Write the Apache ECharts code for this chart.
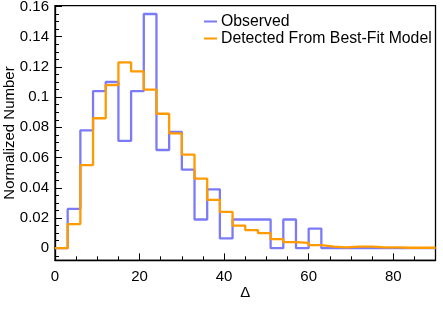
<!DOCTYPE html>
<html><head><meta charset="utf-8">
<script src="https://cdn.jsdelivr.net/npm/echarts@6/dist/echarts.min.js"></script>
<style>html,body{margin:0;padding:0;background:#fff}#c{width:443px;height:313px}</style>
</head><body><div id="c"></div>
<script>
const binStarts = [0,3,6,9,12,15,18,21,24,27,30,33,36,39,42,45,48,51,54,57,60,63,66,69,72,75,78,81,84,87];
const binEnd = 90;
const observed = [0,0.026,0.078,0.104,0.110,0.071,0.104,0.155,0.065,0.077,0.052,0.019,0.039,0.0065,0.019,0.019,0.019,0,0.019,0,0.013,0,0,0,0,0,0,0,0,0];
const detected = [0,0.016,0.055,0.086,0.108,0.123,0.117,0.105,0.089,0.076,0.062,0.046,0.032,0.024,0.015,0.012,0.010,0.006,0.004,0.0035,0.002,0.001,0.0005,0.001,0.001,0.0005,0.0005,0.0003,0.0003,0.0003];
const xMajor = [0,20,40,60,80];
const xMinor = [5,10,15,25,30,35,45,50,55,65,70,75,85];
const yMajor = [0,0.02,0.04,0.06,0.08,0.1,0.12,0.14,0.16];
const yMinor = [-0.005,0.005,0.01,0.015,0.025,0.03,0.035,0.045,0.05,0.055,0.065,0.07,0.075,0.085,0.09,0.095,0.105,0.11,0.115,0.125,0.13,0.135,0.145,0.15,0.155];

function steps(vals){
  const d = binStarts.map((x,i)=>[x, vals[i]]);
  d.push([binEnd, vals[vals.length-1]]);
  return d;
}
const font = 'Liberation Sans';
const chart = echarts.init(document.getElementById('c'), null, {renderer:'canvas'});
const X0=0, X1=90, Y0=-0.008, Y1=0.1605;
chart.setOption({
  animation:false,
  textStyle:{fontFamily:font},
  grid:{left:55,top:5.7,right:7.5,bottom:52.7,outerBoundsMode:'none',containLabel:false,show:true,borderColor:'#000',borderWidth:1.3,backgroundColor:'transparent'},
  legend:{
    orient:'vertical', left:204, top:13, padding:0, itemWidth:13, itemHeight:2, itemGap:0, icon:'rect',
    textStyle:{fontFamily:font,fontSize:15.8,lineHeight:17,color:'#000',padding:[0,0,0,-1]},
    data:['Observed','Detected From Best-Fit Model']
  },
  xAxis:[{
    type:'value', min:X0, max:X1, position:'bottom',
    name:'Δ', nameLocation:'middle', nameGap:25, nameMoveOverlap:false, nameTextStyle:{fontFamily:font,fontSize:15,color:'#000'},
    axisLine:{show:true,onZero:false,lineStyle:{color:'#000',width:1.3}},
    axisTick:{show:true,inside:true,length:7,customValues:xMajor,lineStyle:{color:'#000',width:1}},
    axisLabel:{customValues:xMajor,fontFamily:font,fontSize:15,color:'#000',margin:9},
    splitLine:{show:false}
  },{
    type:'value', min:X0, max:X1, position:'bottom',
    axisLine:{show:false,onZero:false}, axisLabel:{show:false}, splitLine:{show:false},
    axisTick:{show:true,inside:true,length:4,customValues:xMinor,lineStyle:{color:'#000',width:1}}
  }],
  yAxis:[{
    type:'value', min:Y0, max:Y1, position:'left',
    name:'Normalized Number', nameLocation:'middle', nameGap:38, nameMoveOverlap:false, nameTextStyle:{fontFamily:font,fontSize:15,color:'#000'},
    axisLine:{show:true,onZero:false,lineStyle:{color:'#000',width:1.3}},
    axisTick:{show:true,inside:true,length:7,customValues:yMajor,lineStyle:{color:'#000',width:1}},
    axisLabel:{customValues:yMajor,fontFamily:font,fontSize:15,color:'#000',margin:6},
    splitLine:{show:false}
  },{
    type:'value', min:Y0, max:Y1, position:'left',
    axisLine:{show:false,onZero:false}, axisLabel:{show:false}, splitLine:{show:false},
    axisTick:{show:true,inside:true,length:4,customValues:yMinor,lineStyle:{color:'#000',width:1}}
  }],
  series:[{
    name:'Observed', type:'line', step:'end', data:steps(observed), symbol:'none',
    color:'#7b7bf7', lineStyle:{width:2.3,color:'#7b7bf7'}
  },{
    name:'Detected From Best-Fit Model', type:'line', step:'end', data:steps(detected), symbol:'none',
    color:'#ff9a00', lineStyle:{width:2.3,color:'#ff9a00'}
  }]
});
</script></body></html>
